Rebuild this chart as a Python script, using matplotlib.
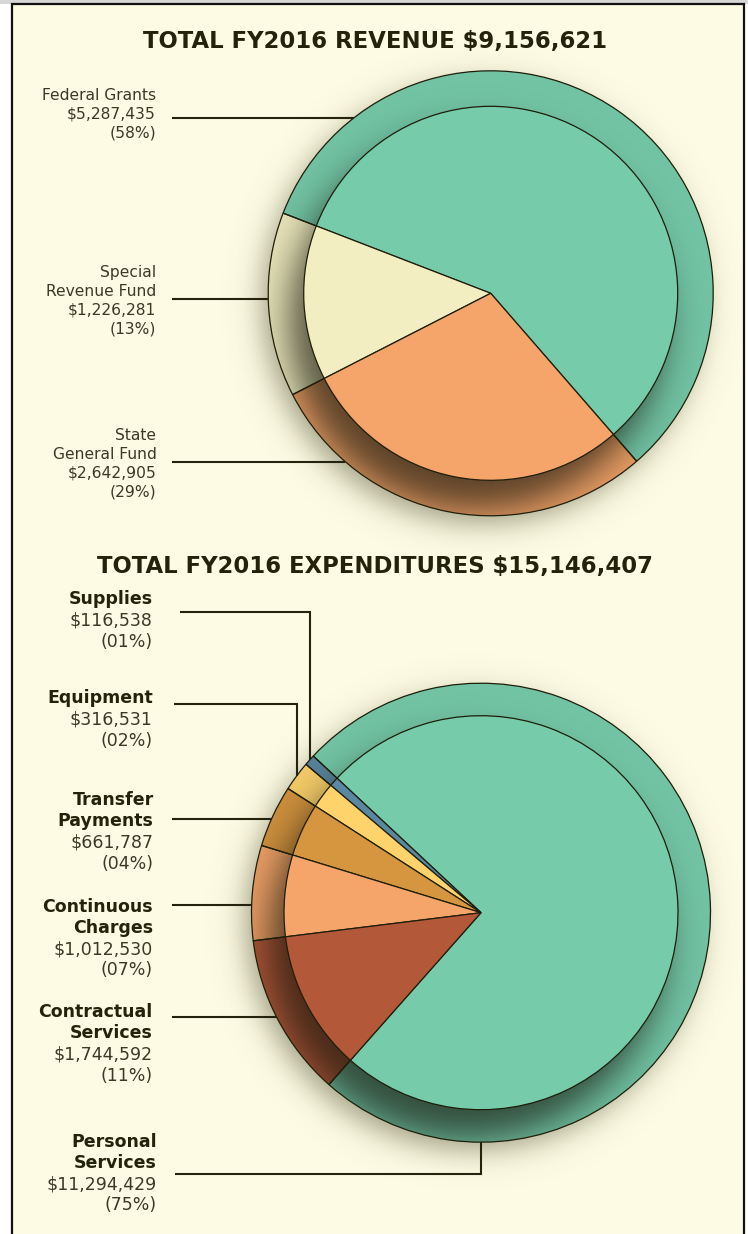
import numpy as np
import matplotlib
matplotlib.use("Agg")
import matplotlib.pyplot as plt
from matplotlib.patches import Circle, Rectangle

W, H = 748, 1234
BG = "#FDFBE3"
EDGE = "#1e1e0a"
INK = "#23230c"
TEXT = "#3a3a26"

# revenue breakdown
revenue_names = ["Federal Grants", "Special\nRevenue Fund", "State\nGeneral Fund"]
revenue_values = [5287435, 1226281, 2642905]
revenue_pct = [58, 13, 29]
revenue_colors = ["#76CBAB", "#F2EEC2", "#F5A56A"]

# expenditure breakdown
expense_names = ["Personal\nServices", "Supplies", "Equipment", "Transfer\nPayments",
                 "Continuous\nCharges", "Contractual\nServices"]
expense_values = [11294429, 116538, 316531, 661787, 1012530, 1744592]
expense_pct = [75, 1, 2, 4, 7, 11]
expense_colors = ["#76CBAB", "#5A87A1", "#FED36C", "#D6953F", "#F5A56A", "#B4583A"]


def to_y(img_y):
    return H - img_y


fig = plt.figure(figsize=(W / 100, H / 100), dpi=100)
fig.patch.set_facecolor("white")
ax = fig.add_axes([0, 0, 1, 1])

ax.add_patch(Rectangle((0, to_y(3.5)), W, 3.5, facecolor="#d6d6d6", edgecolor="none", zorder=0))
ax.add_patch(Rectangle((12.5, -10), 732, to_y(4) + 10, facecolor=BG, edgecolor="#111111",
                       linewidth=1.6, zorder=0.5))

gx, gy = np.meshgrid(np.arange(W) + 0.5, np.arange(H) + 0.5)


def soft_disc(cx, cy, radius, width):
    d = np.hypot(gx - cx, gy - cy)
    return 0.5 * (1 - np.tanh((d - radius) / width))


def overlay(alpha, rgb, z, clip=None):
    img = np.zeros((H, W, 4))
    img[..., :3] = matplotlib.colors.to_rgb(rgb)
    img[..., 3] = alpha
    im = ax.imshow(img, extent=(0, W, 0, H), origin="lower", interpolation="bilinear", zorder=z)
    if clip is not None:
        im.set_clip_path(clip)
    return im


def draw_pie(values, colors, center, R, r, start):
    cx, cy = center
    # soft shadow under the whole disc
    overlay(0.55 * soft_disc(cx - 8, cy - 10, R - 2, 17), "#5b5b3c", 1)
    # outer rim, shaded by the top face sitting above it
    ax.pie(values, colors=colors, center=center, radius=R, startangle=start, frame=True,
           wedgeprops=dict(edgecolor="none", zorder=2))
    rim = Circle(center, R, transform=ax.transData)
    overlay(0.04 + 0.66 * soft_disc(cx - 14, cy - 28, r, 22), "#15150a", 3, clip=rim)
    ax.pie(values, colors=colors, center=center, radius=R, startangle=start, frame=True,
           wedgeprops=dict(facecolor="none", edgecolor=EDGE, linewidth=0.9, zorder=4))
    # flat top face
    ax.pie(values, colors=colors, center=center, radius=r, startangle=start, frame=True,
           wedgeprops=dict(edgecolor=EDGE, linewidth=0.9, zorder=5))


def mid_angles(values, start):
    fr = np.cumsum([0] + list(values)) / float(sum(values)) * 360 + start
    return (fr[:-1] + fr[1:]) / 2


def draw_labels(names, values, pct, center, R, right_x, baselines, step, leader_y, start_x,
                anchors, size, bold_names):
    cx, cy = center
    for i, name in enumerate(names):
        lines = name.split("\n")
        rows = [(ln, True) for ln in lines] + [(f"${values[i]:,}", False), (f"({pct[i]:02d}%)", False)]
        for k, (txt, is_name) in enumerate(rows):
            bold = is_name and bold_names
            ax.text(right_x[i], to_y(baselines[i] + k * step), txt, ha="right", va="baseline",
                    fontsize=size, fontweight="bold" if bold else "normal",
                    color=INK if bold else TEXT, zorder=7)
        y = to_y(leader_y[i])
        if anchors[i] is None:
            ex = cx - np.sqrt(R ** 2 - (y - cy) ** 2)
            xs, ys = [start_x[i], ex], [y, y]
        else:
            a = np.deg2rad(anchors[i])
            px, py = cx + R * np.cos(a), cy + R * np.sin(a)
            xs, ys = [start_x[i], px, px], [y, y, py]
        ax.plot(xs, ys, color="#24240e", linewidth=1.5, solid_capstyle="butt",
                solid_joinstyle="miter", zorder=6)


# revenue pie
rev_center = (490.7, to_y(293.3))
rev_start = 311
draw_pie(revenue_values, revenue_colors, rev_center, 222.5, 187, rev_start)
ax.text(375, to_y(48.3), "TOTAL FY2016 REVENUE $9,156,621", ha="center", va="baseline",
        fontsize=16.4, fontweight="bold", color=INK, zorder=7)
draw_labels(revenue_names, revenue_values, revenue_pct, rev_center, 222.5,
            right_x=[156, 156, 156.5], baselines=[100, 277.3, 440], step=18.7,
            leader_y=[118, 299, 461.7], start_x=[172, 172, 172],
            anchors=[None, None, None], size=11.2, bold_names=False)

# expenditure pie
exp_center = (481, to_y(912.7))
exp_start = 228.5
draw_pie(expense_values, expense_colors, exp_center, 229.5, 197, exp_start)
ax.text(375, to_y(573), "TOTAL FY2016 EXPENDITURES $15,146,407", ha="center", va="baseline",
        fontsize=16.4, fontweight="bold", color=INK, zorder=7)
mids = mid_angles(expense_values, exp_start)
draw_labels(expense_names, expense_values, expense_pct, exp_center, 229.5,
            right_x=[156.6, 152.7, 152.7, 153.7, 152.8, 152.8],
            baselines=[1146.7, 604.3, 703.3, 805.3, 911.7, 1017.3], step=21.2,
            leader_y=[1174, 612.3, 704.3, 818.7, 905, 1017.3],
            start_x=[175, 180, 174.3, 171.7, 172, 172],
            anchors=[270, mids[1], mids[2], None, None, None], size=12.5, bold_names=True)

ax.set_xlim(0, W)
ax.set_ylim(0, H)
ax.set_aspect("auto")
ax.axis("off")
fig.savefig("out.png", dpi=100, facecolor=fig.get_facecolor())
